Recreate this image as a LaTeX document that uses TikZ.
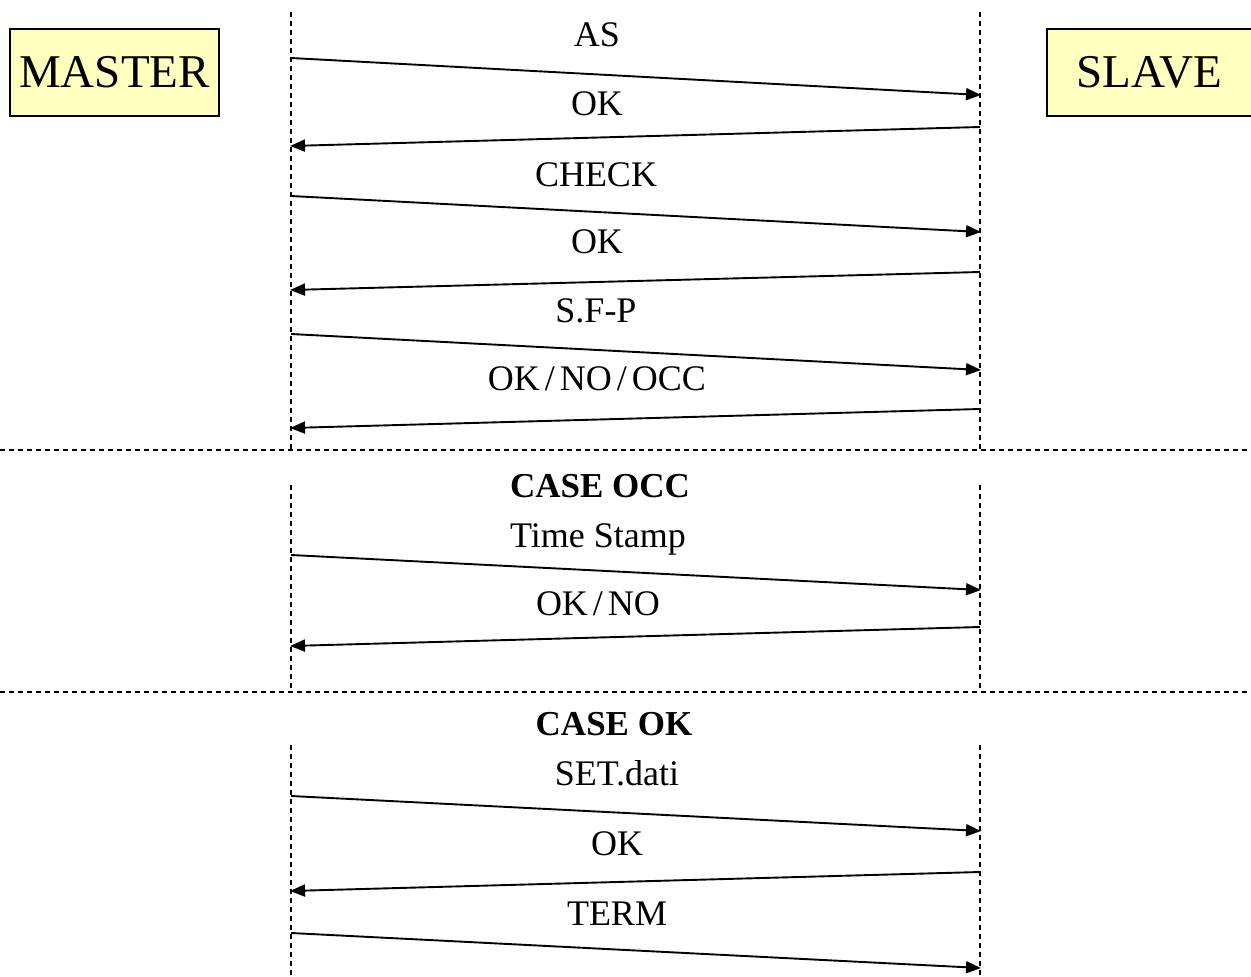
\documentclass[tikz,border=0pt]{standalone}
\usepackage{fontspec}
\setmainfont{Liberation Serif}
\usetikzlibrary{arrows.meta}
\definecolor{boxyellow}{RGB}{255,255,192}
\newcommand{\spslash}{\kern5pt/\kern5pt}
\tikzset{
  msg/.style={line width=1.9pt, -{Triangle[length=15pt,width=12pt]}},
  life/.style={line width=1.3pt, dash pattern=on 5pt off 4pt},
  sep/.style={line width=1.3pt, dash pattern=on 5pt off 4pt},
  role/.style={draw, line width=1.4pt, fill=boxyellow, inner sep=0pt,
    minimum height=87pt, font=\fontsize{47}{52}\selectfont},
  lbl/.style={anchor=base, inner sep=0pt, font=\fontsize{36}{40}\selectfont},
  casehead/.style={anchor=base, inner sep=0pt, font=\bfseries\fontsize{35}{40}\selectfont},
}
\begin{document}
\begin{tikzpicture}[x=1pt, y=-1pt]
\useasboundingbox (0,0) rectangle (1251,977);
\fill[white] (0,0) rectangle (1251,977);

% participants
\node[role, minimum width=209pt] (master) at (114.5,72.5) {MASTER};
\node[role, minimum width=205pt] (slave) at (1149.5,72.5) {SLAVE};

% lifelines, one pair per section
\coordinate (mA1) at (291,12);  \coordinate (mA2) at (291,450);
\coordinate (sA1) at (980,12);  \coordinate (sA2) at (980,450);
\coordinate (mB1) at (291,485); \coordinate (mB2) at (291,688);
\coordinate (sB1) at (980,485); \coordinate (sB2) at (980,688);
\coordinate (mC1) at (291,745); \coordinate (mC2) at (291,977);
\coordinate (sC1) at (980,745); \coordinate (sC2) at (980,977);
\draw[life] (mA1) -- (mA2);
\draw[life] (sA1) -- (sA2);
\draw[life] (mB1) -- (mB2);
\draw[life] (sB1) -- (sB2);
\draw[life] (mC1) -- (mC2);
\draw[life] (sC1) -- (sC2);

% section separators
\coordinate (sep1L) at (0,450);  \coordinate (sep1R) at (1251,450);
\coordinate (sep2L) at (0,692);  \coordinate (sep2R) at (1251,692);
\draw[sep] (sep1L) -- (sep1R);
\draw[sep] (sep2L) -- (sep2R);

% message end points
\coordinate (m1) at (291,58);  \coordinate (s1) at (981,95);
\coordinate (s2) at (980,127); \coordinate (m2) at (290,146);
\coordinate (m3) at (291,196); \coordinate (s3) at (981,232);
\coordinate (s4) at (980,272); \coordinate (m4) at (290,290);
\coordinate (m5) at (291,334); \coordinate (s5) at (981,370);
\coordinate (s6) at (980,409); \coordinate (m6) at (290,428);
\coordinate (m7) at (291,555); \coordinate (s7) at (981,590);
\coordinate (s8) at (980,627); \coordinate (m8) at (290,646);
\coordinate (m9) at (291,796); \coordinate (s9) at (981,831);
\coordinate (s10) at (980,872); \coordinate (m10) at (290,891);
\coordinate (m11) at (291,933); \coordinate (s11) at (981,968);

% handshake
\node[lbl] (l1) at (597,46) {AS};
\draw[msg] (m1) -- (s1);
\node[lbl] (l2) at (597,115) {OK};
\draw[msg] (s2) -- (m2);
\node[lbl] (l3) at (596,186) {CHECK};
\draw[msg] (m3) -- (s3);
\node[lbl] (l4) at (597,253) {OK};
\draw[msg] (s4) -- (m4);
\node[lbl] (l5) at (596,322) {S.F-P};
\draw[msg] (m5) -- (s5);
\node[lbl] (l6) at (597,390) {OK\spslash NO\spslash OCC};
\draw[msg] (s6) -- (m6);

% busy case
\node[casehead] (c1) at (600,497) {CASE OCC};
\node[lbl] (l7) at (598,547) {Time Stamp};
\draw[msg] (m7) -- (s7);
\node[lbl] (l8) at (598,615) {OK\spslash NO};
\draw[msg] (s8) -- (m8);

% accepted case
\node[casehead] (c2) at (614,735) {CASE OK};
\node[lbl] (l9) at (617,785) {SET.dati};
\draw[msg] (m9) -- (s9);
\node[lbl] (l10) at (617,855) {OK};
\draw[msg] (s10) -- (m10);
\node[lbl] (l11) at (617,925) {TERM};
\draw[msg] (m11) -- (s11);
\end{tikzpicture}
\end{document}
